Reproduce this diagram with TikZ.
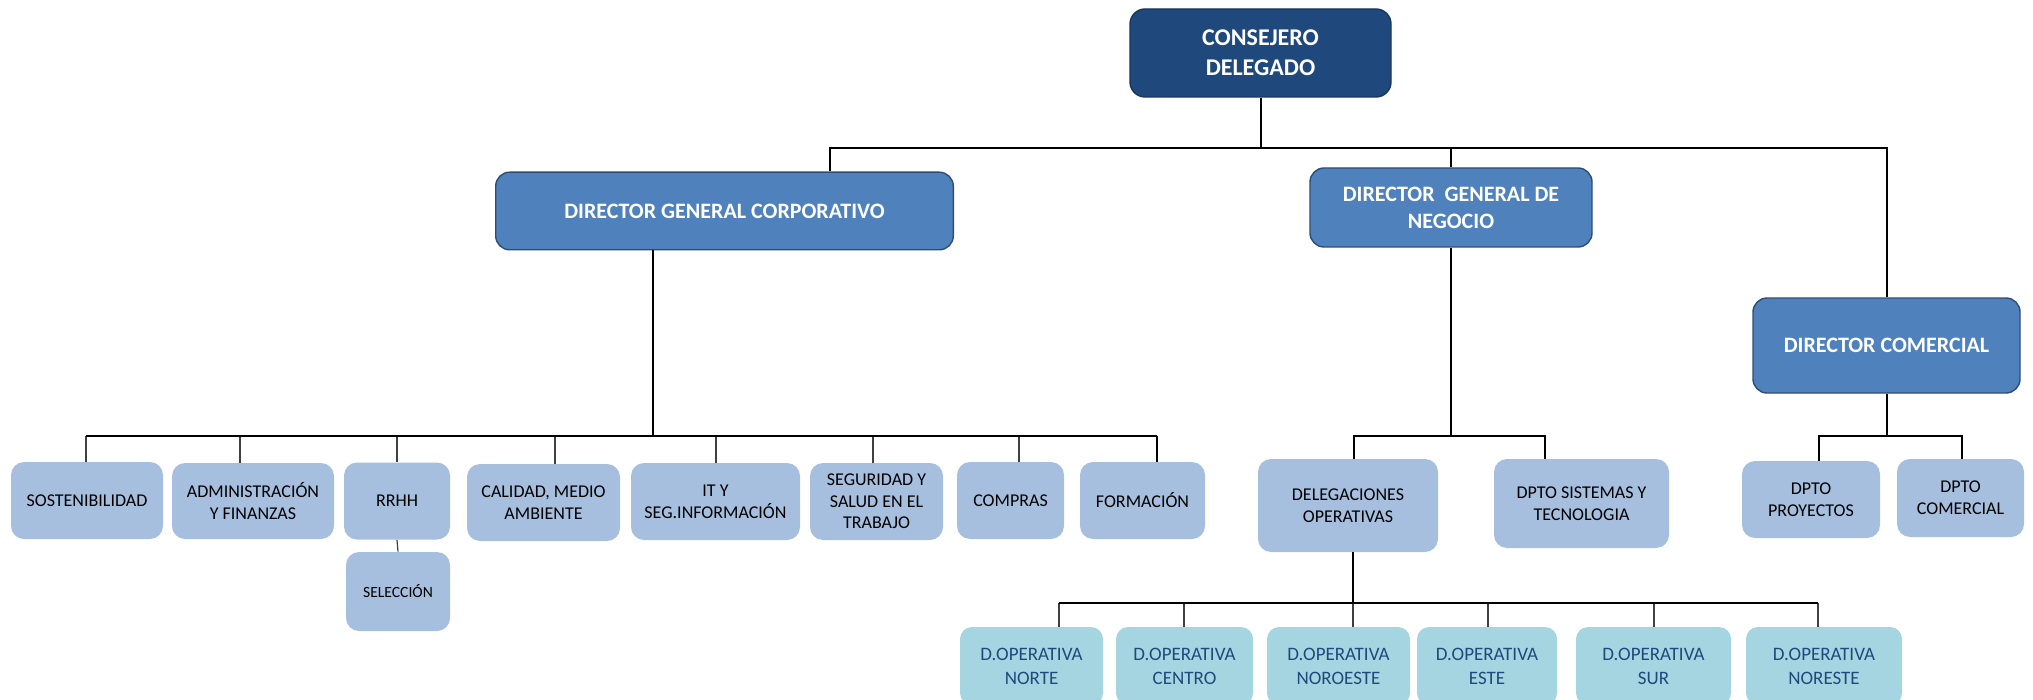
\documentclass[tikz,border=0pt]{standalone}
\usepackage{fontspec}
\setmainfont{Carlito}
\usepackage{tikz}
\definecolor{cdfill}{HTML}{1F497D}
\definecolor{cddraw}{HTML}{17375E}
\definecolor{dirfill}{HTML}{4F81BD}
\definecolor{dirdraw}{HTML}{2C4D75}
\definecolor{deptfill}{HTML}{A7BFDE}
\definecolor{opfill}{HTML}{A6D5E2}
\definecolor{optext}{HTML}{1F497D}
\tikzset{
  wh/.style 2 args={minimum width=#1,minimum height=#2,inner sep=1pt},
  cdbox/.style={draw=cddraw,line width=0.7pt,fill=cdfill,rounded corners=7.5pt,text=white,align=center,
    font=\bfseries\fontsize{12}{15}\selectfont},
  dirbox/.style={draw=dirdraw,line width=0.7pt,fill=dirfill,rounded corners=7pt,text=white,align=center,
    font=\bfseries\fontsize{11}{13.5}\selectfont},
  deptbox/.style={fill=deptfill,rounded corners=6.5pt,align=center,font=\fontsize{9}{10.8}\selectfont},
  opbox/.style={fill=opfill,rounded corners=6pt,text=optext,align=center,font=\fontsize{9.5}{12}\selectfont},
  bus/.style={line width=1pt},
  drop/.style={line width=0.6pt,black!75}
}

\begin{document}
\begin{tikzpicture}[x=0.5pt,y=-0.5pt]
  \useasboundingbox (0,0) rectangle (2033,700);

  \node[cdbox,wh={130.5pt}{44pt}] (cd) at (1260.5,53) {CONSEJERO\\DELEGADO};
  \node[dirbox,wh={228.8pt}{38.8pt}] (dgc) at (724.5,211) {DIRECTOR GENERAL CORPORATIVO};
  \node[dirbox,wh={141pt}{39.5pt}] (dgn) at (1451,207.5) {DIRECTOR~~GENERAL DE\\NEGOCIO};
  \node[dirbox,wh={133.5pt}{47.5pt}] (dc) at (1886.5,345.5) {DIRECTOR COMERCIAL};

  \node[deptbox,wh={76pt}{38.5pt}] (sost) at (87,500.5) {SOSTENIBILIDAD};
  \node[deptbox,wh={81pt}{38pt}] (admin) at (253,501) {ADMINISTRACIÓN\\Y FINANZAS};
  \node[deptbox,wh={53pt}{38.5pt}] (rrhh) at (397,501) {RRHH};
  \node[deptbox,wh={52pt}{39.5pt},font=\fontsize{7.8}{9.5}\selectfont] (sel) at (398,591.5) {SELECCIÓN};
  \node[deptbox,wh={76.5pt}{38.5pt}] (cal) at (543.5,502.5) {CALIDAD, MEDIO\\AMBIENTE};
  \node[deptbox,wh={84.5pt}{38.5pt}] (it) at (715.5,501.5) {IT Y\\SEG.INFORMACIÓN};
  \node[deptbox,wh={66.5pt}{38.5pt}] (seg) at (876.5,501.5) {SEGURIDAD Y\\SALUD EN EL\\TRABAJO};
  \node[deptbox,wh={53.5pt}{38.5pt}] (compras) at (1010.5,500.5) {COMPRAS};
  \node[deptbox,wh={62.5pt}{38.5pt}] (form) at (1142.5,500.5) {FORMACIÓN};

  \node[deptbox,wh={90pt}{46.5pt}] (deleg) at (1348,505.5) {DELEGACIONES\\OPERATIVAS};
  \node[deptbox,wh={87.5pt}{44.5pt}] (sist) at (1581.5,503.5) {DPTO SISTEMAS Y\\TECNOLOGIA};
  \node[deptbox,wh={69pt}{38.5pt}] (proy) at (1811,499.5) {DPTO\\PROYECTOS};
  \node[deptbox,wh={63.5pt}{39pt}] (comer) at (1960.5,498) {DPTO\\COMERCIAL};

  \node[opbox,wh={71.5pt}{39pt}] (norte) at (1031.5,666) {D.OPERATIVA\\NORTE};
  \node[opbox,wh={68.5pt}{39pt}] (centro) at (1184.5,666) {D.OPERATIVA\\CENTRO};
  \node[opbox,wh={71.5pt}{39pt}] (noroeste) at (1338.5,666) {D.OPERATIVA\\NOROESTE};
  \node[opbox,wh={70pt}{39pt}] (este) at (1487,666) {D.OPERATIVA\\ESTE};
  \node[opbox,wh={77.5pt}{39pt}] (sur) at (1653.5,666) {D.OPERATIVA\\SUR};
  \node[opbox,wh={78pt}{39pt}] (noreste) at (1824,666) {D.OPERATIVA\\NORESTE};

  \coordinate (dgcin) at (830,148);
  \coordinate (dcin) at (1887,148);
  \draw[bus] (cd.south) -- (cd.south |- dgcin);
  \draw[bus] (dgc.north -| dgcin) -- (dgcin) -- (dcin) -- (dc.north -| dcin);
  \draw[bus] (dgn.north) -- (dgn.north |- dgcin);

  \coordinate (dgcout) at (653,436);
  \coordinate (sostin) at (86,436);
  \coordinate (adminin) at (240,436);
  \coordinate (rrhhin) at (397,436);
  \coordinate (calin) at (555,436);
  \coordinate (itin) at (716,436);
  \coordinate (segin) at (873,436);
  \coordinate (comprasin) at (1019,436);
  \coordinate (formin) at (1157,436);
  \draw[bus] (dgc.south -| dgcout) -- (dgcout);
  \draw[drop] (sostin) -- (sostin |- sost.north);
  \draw[drop] (adminin) -- (adminin |- admin.north);
  \draw[drop] (rrhhin) -- (rrhhin |- rrhh.north);
  \draw[drop] (calin) -- (calin |- cal.north);
  \draw[drop] (itin) -- (itin |- it.north);
  \draw[drop] (segin) -- (segin |- seg.north);
  \draw[drop] (comprasin) -- (comprasin |- compras.north);
  \draw[bus] (formin) -- (formin |- form.north);
  \draw[bus] (sostin) -- (formin);
  \draw[drop] (rrhh.south) -- (sel.north);

  \coordinate (delegin) at (1354,436);
  \coordinate (sistin) at (1545,436);
  \draw[bus] (dgn.south) -- (dgn.south |- delegin);
  \draw[bus] (delegin |- deleg.north) -- (delegin) -- (sistin) -- (sistin |- sist.north);

  \coordinate (proyin) at (1819,436);
  \coordinate (comerin) at (1962,436);
  \draw[bus] (dc.south) -- (dc.south |- proyin);
  \draw[bus] (proyin |- proy.north) -- (proyin) -- (comerin) -- (comerin |- comer.north);

  \coordinate (nortein) at (1059,603);
  \coordinate (centroin) at (1184,603);
  \coordinate (noroestein) at (1353,603);
  \coordinate (estein) at (1488,603);
  \coordinate (surin) at (1654,603);
  \coordinate (noresteein) at (1818,603);
  \draw[bus] (deleg.south -| noroestein) -- (noroestein);
  \draw[drop] (nortein) -- (nortein |- norte.north);
  \draw[drop] (centroin) -- (centroin |- centro.north);
  \draw[drop] (noroestein) -- (noroestein |- noroeste.north);
  \draw[drop] (estein) -- (estein |- este.north);
  \draw[drop] (surin) -- (surin |- sur.north);
  \draw[drop] (noresteein) -- (noresteein |- noreste.north);
  \draw[bus] (nortein) -- (noresteein);
\end{tikzpicture}
\end{document}
